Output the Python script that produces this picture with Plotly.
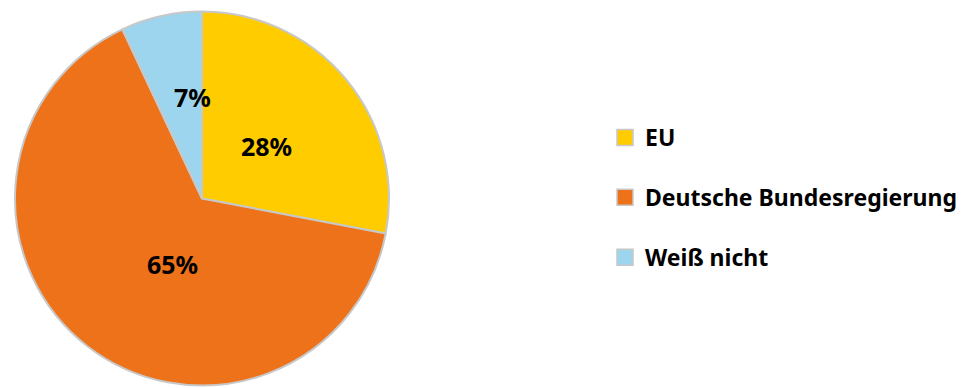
import math
import plotly.graph_objects as go

labels = ["EU", "Deutsche Bundesregierung", "Weiß nicht"]
values = [28, 65, 7]
colors = ["#FFCC00", "#EE7219", "#9DD5EE"]

# label placement (style): radial fraction and angle offset (deg) per slice
label_r = [0.443, 0.383, 0.545]
label_da = [0.7, -13.9, 7.3]

W, H = 962, 388
dom_x = [15 / W, 389 / W]
dom_y = [2 / H, 377 / H]

fig = go.Figure()
fig.add_trace(go.Pie(
    labels=labels, values=values, sort=False, direction="clockwise", rotation=0,
    marker=dict(colors=colors, line=dict(color="#C8C8C8", width=2)),
    textinfo="none",
    domain=dict(x=dom_x, y=dom_y),
    showlegend=False, hoverinfo="label+percent",
))

# percentage labels from the data
cx = (dom_x[0] + dom_x[1]) / 2 * W
cy = H - (dom_y[0] + dom_y[1]) / 2 * H
R = min((dom_x[1] - dom_x[0]) * W, (dom_y[1] - dom_y[0]) * H) / 2
total = sum(values)
cum = 0
for v, fr, da in zip(values, label_r, label_da):
    mid = (cum + v / 2) / total * 360 + da
    cum += v
    a = math.radians(mid)
    px = cx + fr * R * math.sin(a)
    py = cy - fr * R * math.cos(a)
    fig.add_annotation(
        x=px / W, y=1 - py / H, xref="paper", yref="paper",
        text=f"{round(v / total * 100)}%", showarrow=False,
        xanchor="center", yanchor="middle",
        font=dict(family="Noto Sans", size=25, color="#000000", weight="bold"),
    )

for i, (lab, col) in enumerate(zip(labels, colors)):
    fig.add_trace(go.Scatter(
        x=[None], y=[None], mode="markers", name=lab, legendgroup=str(i),
        marker=dict(symbol="square", size=17, color=col, line=dict(color="#C8C8C8", width=1.5)),
        showlegend=True,
    ))
fig.update_layout(
    width=W, height=H, margin=dict(l=0, r=0, t=0, b=0),
    paper_bgcolor="white", plot_bgcolor="white",
    xaxis=dict(visible=False), yaxis=dict(visible=False),
    legend=dict(x=605 / W, y=1 - 116 / H, xanchor="left", yanchor="top",
                tracegroupgap=27, itemwidth=30,
                font=dict(family="Noto Sans", size=23, color="#000000", weight="bold")),
)
fig.write_html("out.html")
